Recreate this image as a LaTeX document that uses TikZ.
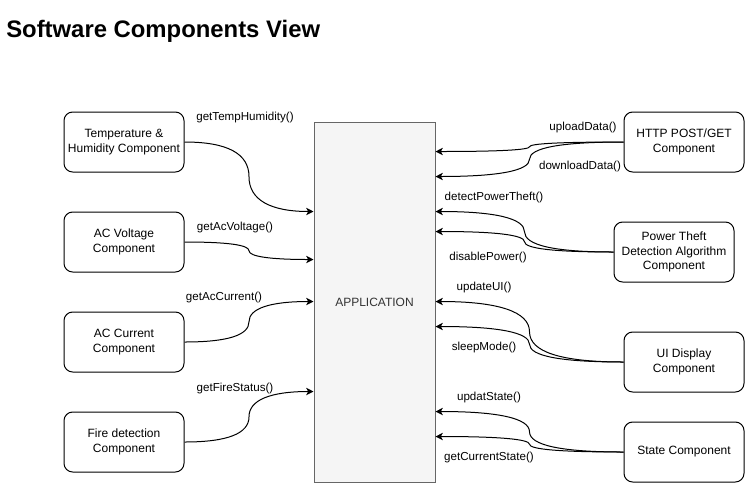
\documentclass[tikz,border=0pt]{standalone}
\usepackage{fontspec}
\setmainfont{Liberation Sans}
\usetikzlibrary{calc,arrows.meta}
\definecolor{appfill}{HTML}{F5F5F5}
\definecolor{appline}{HTML}{666666}
\definecolor{apptext}{HTML}{333333}
\newcommand\qconn[2]{%
  \coordinate (qm) at ($(#1)!0.5!(#2)$);
  \coordinate (qa) at (qm |- #1);
  \coordinate (qb) at (qm |- #2);
  \draw[conn] (#1) .. controls ($(#1)!0.6667!(qa)$) and ($(qm)!0.6667!(qa)$) .. (qm)
     .. controls ($(qm)!0.6667!(qb)$) and ($(#2)!0.6667!(qb)$) .. (#2);
}
\begin{document}
\begin{tikzpicture}[x=0.75pt,y=-0.75pt,
  comp/.style={draw=black,line width=0.75pt,rounded corners=6.5pt,minimum width=90pt,minimum height=45pt,
    inner sep=0pt,align=center,font=\fontsize{9}{10.8}\selectfont},
  appbox/.style={draw=appline,fill=appfill,line width=0.75pt,minimum width=90.75pt,minimum height=270pt,
    inner sep=0pt,text=apptext,font=\fontsize{9}{10.8}\selectfont},
  conn/.style={draw=black,line width=0.75pt,-{Stealth[length=5.5pt,width=5.5pt,inset=1.5pt]}},
  lbl/.style={inner sep=0pt,font=\fontsize{8.7}{10}\selectfont},
  title/.style={inner sep=0pt,anchor=base west,font=\fontsize{17.9}{20}\selectfont\bfseries}]
\useasboundingbox (0,0) rectangle (745,483);
\node[title] (ttl) at (6,37) {Software Components View};
% application
\node[appbox] (app) at (374.5,302) {APPLICATION};
% left components
\node[comp] (th) at (124,142) {Temperature \&\\Humidity Component};
\node[comp] (av) at (124,242) {AC Voltage\\Component};
\node[comp] (ac) at (124,342) {AC Current\\Component};
\node[comp] (fd) at (124,442) {Fire detection\\Component};
% right components
\node[comp] (http) at (684,142) {HTTP POST/GET\\Component};
\node[comp] (pt) at (674,252) {Power Theft\\Detection Algorithm\\Component};
\node[comp] (ui) at (684,362) {UI Display\\Component};
\node[comp] (st) at (684,452) {State Component};
% attachment points on the application box
\path (app.north west) ++(0,90) coordinate (l1);
\path (app.north west) ++(0,138) coordinate (l2);
\path (app.north west) ++(0,180) coordinate (l3);
\path (app.north west) ++(0,270) coordinate (l4);
\path (app.north east) ++(0,30) coordinate (r1);
\path (app.north east) ++(0,55) coordinate (r2);
\path (app.north east) ++(0,90) coordinate (r3);
\path (app.north east) ++(0,110) coordinate (r4);
\path (app.north east) ++(0,180) coordinate (r5);
\path (app.north east) ++(0,205) coordinate (r6);
\path (app.north east) ++(0,290) coordinate (r7);
\path (app.north east) ++(0,315) coordinate (r8);
% connectors
\qconn{th.east}{l1}
\qconn{av.east}{l2}
\qconn{ac.east}{l3}
\qconn{fd.east}{l4}
\qconn{http.west}{r1}
\qconn{http.west}{r2}
\qconn{pt.west}{r3}
\qconn{pt.west}{r4}
\qconn{ui.west}{r5}
\qconn{ui.west}{r6}
\qconn{st.west}{r7}
\qconn{st.west}{r8}
% labels
\node[lbl] (n1) at (245,117) {getTempHumidity()};
\node[lbl] (n2) at (235,227) {getAcVoltage()};
\node[lbl] (n3) at (224,297) {getAcCurrent()};
\node[lbl] (n4) at (235,388) {getFireStatus()};
\node[lbl] (n5) at (583,127) {uploadData()};
\node[lbl] (n6) at (580,166) {downloadData()};
\node[lbl] (n7) at (494,197) {detectPowerTheft()};
\node[lbl] (n8) at (488,257) {disablePower()};
\node[lbl] (n9) at (484,287) {updateUI()};
\node[lbl] (n10) at (484,347) {sleepMode()};
\node[lbl] (n11) at (489,397) {updatState()};
\node[lbl] (n12) at (489,457) {getCurrentState()};
\end{tikzpicture}
\end{document}
